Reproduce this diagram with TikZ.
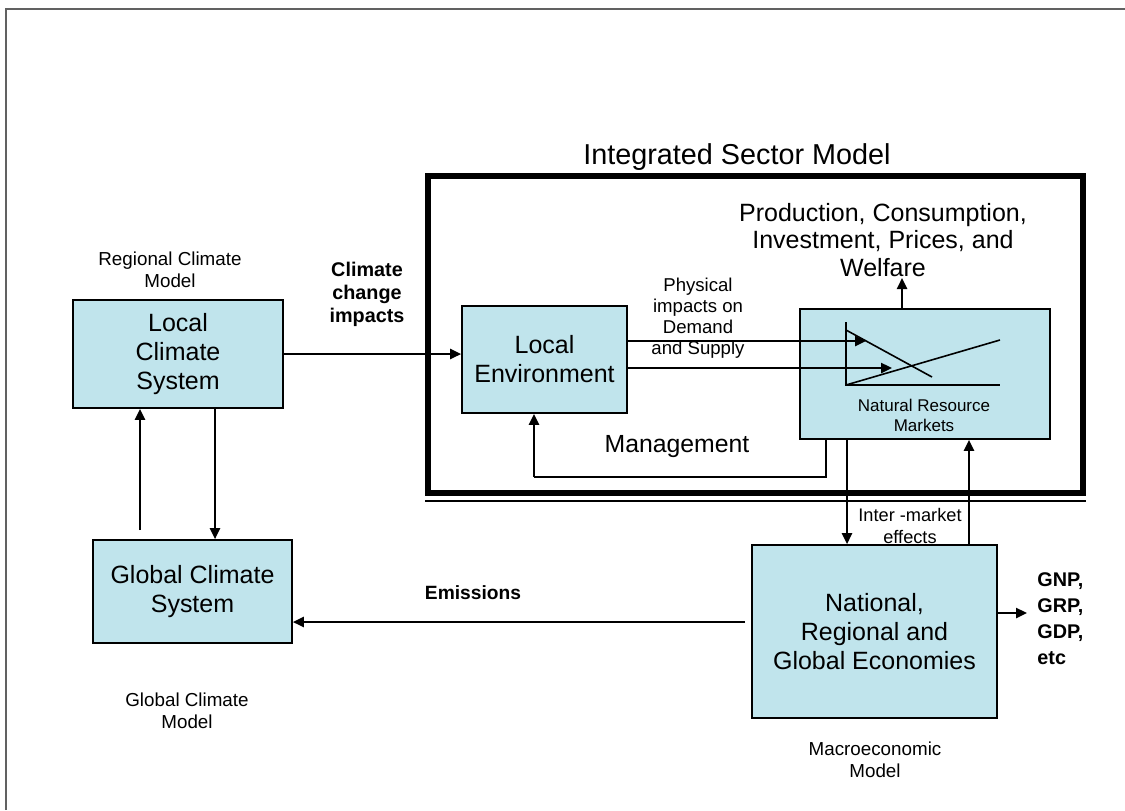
\documentclass[tikz,border=0pt]{standalone}
\usepackage{fontspec}
\setmainfont{Liberation Sans}
\usetikzlibrary{arrows.meta}
\definecolor{boxblue}{RGB}{192,228,236}
\tikzset{
  box/.style={draw,fill=boxblue,line width=0.8pt,align=center,inner sep=0pt,font=\fontsize{12.5}{14.5}\selectfont},
  arr/.style={-{Triangle[length=5.5pt,width=5pt]},line width=1.2pt},
  lbl/.style={align=center,font=\fontsize{9.4}{10.8}\selectfont},
}

\begin{document}
\begin{tikzpicture}[x=0.5pt,y=-0.5pt]
    \useasboundingbox (0,0) rectangle (1125,810);
    \draw [line width=1pt,black!62] (6,810) -- (6,9) -- (1125,9);

    %sector model frame
    \node (ISM) at (755.5,334.5) [draw,line width=3pt,minimum width=327.5pt,minimum height=158.5pt,inner sep=0pt]{};
    \draw [line width=0.8pt] ([yshift=-2.5pt]ISM.south west) -- ([yshift=-2.5pt]ISM.south east);
    \node (ISMt) at (737,157) [font=\fontsize{14.4}{16}\selectfont]{Integrated Sector Model};

    %boxes
    \node (LCS) at (178,354) [box,minimum width=105pt,minimum height=54pt]{Local\\Climate\\System};
    \node (GCS) at (192.5,591.5) [box,minimum width=99.5pt,minimum height=51.5pt]{Global Climate\\System};
    \node (LE) at (544.5,359.5) [box,minimum width=82.5pt,minimum height=53.5pt]{Local\\Environment};
    \node (NRM) at (925,374) [box,minimum width=125pt,minimum height=65pt]{};
    \node (NAT) at (874.5,631.5) [box,minimum width=122.5pt,minimum height=86.5pt]{National,\\Regional and\\Global Economies};

    %labels
    \node (RCM) at (170,270) [lbl]{Regional Climate\\Model};
    \node (GCM) at (187,711) [lbl]{Global Climate\\Model};
    \node (MEM) at (875,760) [lbl]{Macroeconomic\\Model};
    \node (NRMt) at (924,415) [align=center,font=\fontsize{8.5}{10}\selectfont]{Natural Resource\\Markets};
    \node (CCI) at (367,294) [align=center,font=\fontsize{9.9}{11.5}\selectfont\bfseries]{Climate\\change\\impacts};
    \node (PHY) at (698,318) [align=center,font=\fontsize{9.3}{10.5}\selectfont]{Physical\\impacts on\\Demand\\and Supply};
    \node (PCI) at (883,240) [align=center,font=\fontsize{12.5}{13.8}\selectfont]{Production, Consumption,\\Investment, Prices, and\\Welfare};
    \node (MAN) at (677,447) [font=\fontsize{12.4}{14}\selectfont]{Management};
    \node (IME) at (910,526) [align=center,font=\fontsize{9.1}{11}\selectfont]{Inter -market\\effects};
    \node (EMI) at (473,593) [font=\fontsize{9.6}{12}\selectfont\bfseries]{Emissions};
    \node (GNP) at (1037,619) [anchor=west,align=left,inner sep=0pt,font=\fontsize{9.9}{13}\selectfont\bfseries]{GNP,\\GRP,\\GDP,\\etc};

    %market diagram
    \draw [line width=0.8pt] (846,322) -- (846,385) -- (1000,385);
    \draw [line width=0.8pt] (846,330) -- (932,377);
    \draw [line width=0.8pt] (846,385) -- (1000,340);
    \coordinate (dem) at (866,341);
    \coordinate (sup) at (892,368);

    %flows
    \draw [arr] (LCS.east) -- (LCS.east -| LE.west);
    \draw [arr] (LE.east |- dem) -- (dem);
    \draw [arr] (LE.east |- sup) -- (sup);
    \draw [arr] (NRM.north -| 902,0) -- (902,278);
    \draw [line width=0.7pt] (NRM.south -| 826,0) -- (826,477) -- (534,477);
    \draw [arr] (534,477) -- (LE.south -| 534,0);
    \draw [arr] (NRM.south -| 847,0) -- (NAT.north -| 847,0);
    \draw [arr] (NAT.north -| 969,0) -- (NRM.south -| 969,0);
    \draw [arr] (NAT.east |- 0,613) -- (1027,613);
    \draw [arr] (745,622) -- (GCS.east |- 0,622);
    \draw [arr] (140,530) -- (LCS.south -| 140,0);
    \draw [arr] (LCS.south -| 215,0) -- (GCS.north -| 215,0);
\end{tikzpicture}
\end{document}
